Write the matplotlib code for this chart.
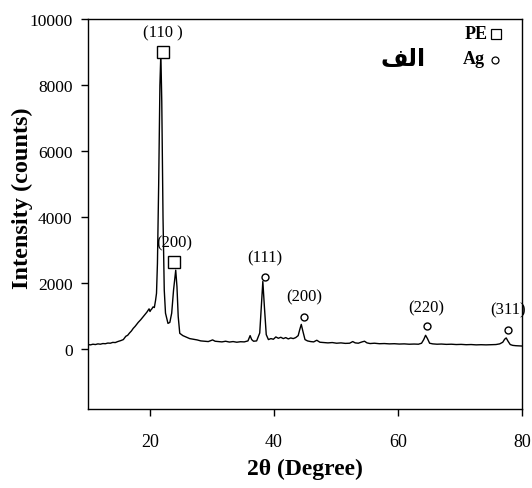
import matplotlib
matplotlib.use("Agg")
import matplotlib.pyplot as plt

# XRD pattern
two_theta = [10.0, 10.4, 10.8, 11.2, 11.6, 12.0, 12.4, 12.8, 13.2, 13.6, 14.0, 14.4, 14.8, 15.3, 15.7,
             16.1, 16.4, 16.7, 17.0, 17.3, 17.6, 18.1, 18.5, 18.9, 19.1, 19.3, 19.5, 19.7, 19.85, 20.0,
             20.15, 20.3, 20.5, 20.7, 20.9, 21.05, 21.2, 21.4, 21.6, 21.75, 21.9, 22.1, 22.3, 22.5,
             22.9, 23.2, 23.5, 23.8, 24.15, 24.35, 24.55, 24.8, 25.3, 25.8, 26.4, 27.0, 27.6, 28.2,
             28.8, 29.4, 30.1, 30.5, 31.0, 31.6, 32.2, 32.8, 33.4, 34.0, 34.6, 35.2, 35.8, 36.15,
             36.4, 36.7, 37.2, 37.7, 37.95, 38.2, 38.45, 38.75, 39.1, 39.5, 39.9, 40.3, 40.7, 41.1,
             41.5, 41.9, 42.3, 42.7, 43.1, 43.5, 43.9, 44.15, 44.4, 44.65, 45.0, 45.4, 45.9, 46.4,
             46.9, 47.4, 48.0, 48.7, 49.4, 50.1, 50.8, 51.5, 52.2, 52.7, 53.1, 53.6, 54.2, 54.6,
             55.0, 55.5, 56.2, 57.0, 57.8, 58.6, 59.4, 60.2, 61.0, 61.8, 62.6, 63.3, 63.8, 64.15,
             64.45, 64.75, 65.1, 65.6, 66.3, 67.0, 67.8, 68.6, 69.4, 70.2, 71.0, 71.8, 72.6, 73.4,
             74.2, 75.0, 75.8, 76.4, 76.9, 77.2, 77.45, 77.75, 78.1, 78.5, 79.0, 79.5, 80.0]
intensity = [150, 140, 160, 150, 170, 160, 180, 175, 195, 190, 215, 210, 240, 270, 300,
             400, 430, 500, 560, 640, 700, 820, 900, 990, 1040, 1080, 1130, 1190, 1230, 1150,
             1200, 1230, 1290, 1270, 1490, 1700, 2600, 5000, 8000, 8950, 7500, 4000, 1800, 1100,
             790, 820, 1100, 1800, 2400, 1900, 1000, 490, 420, 380, 330, 310, 290, 260,
             250, 240, 290, 250, 240, 230, 250, 225, 240, 220, 235, 230, 260, 420,
             300, 250, 260, 500, 1300, 2060, 1300, 450, 300, 330, 310, 380, 340, 370,
             330, 360, 320, 350, 330, 360, 420, 600, 760, 560, 300, 260, 240, 230,
             280, 220, 210, 200, 210, 190, 200, 185, 190, 240, 200, 190, 230, 250,
             200, 180, 190, 175, 180, 170, 175, 165, 170, 160, 165, 160, 190, 300,
             430, 330, 190, 170, 160, 165, 155, 160, 150, 155, 145, 150, 140, 145,
             140, 145, 150, 170, 220, 310, 350, 250, 150, 125, 115, 110, 105]

pe_x = [22.1, 23.9]
pe_y = [9000, 2650]
pe_labels = ["(110 )", "(200)"]
pe_label_y = [9600, 3250]

ag_x = [38.5, 44.8, 64.6, 77.8]
ag_y = [2200, 970, 700, 580]
ag_labels = ["(111)", "(200)", "(220)", "(311)"]
ag_label_y = [2800, 1600, 1280, 1220]

x_ticks = [20, 40, 60, 80]
y_ticks = [0, 2000, 4000, 6000, 8000, 10000]

serif = "Liberation Serif"

fig = plt.figure(figsize=(5.32, 4.89), dpi=100)
ax = fig.add_axes([0.1654, 0.1616, 0.8158, 0.7974])

ax.plot(two_theta, intensity, color="black", lw=1.0)
ax.plot(pe_x, pe_y, ls="none", marker="s", ms=9, mfc="white", mec="black", mew=1.0)
ax.plot(ag_x, ag_y, ls="none", marker="o", ms=5, mfc="white", mec="black", mew=1.0)

for x, y, t in zip(pe_x, pe_label_y, pe_labels):
    ax.text(x, y, t, ha="center", va="center", family=serif, fontsize=12)
for x, y, t in zip(ag_x, ag_label_y, ag_labels):
    ax.text(x, y, t, ha="center", va="center", family=serif, fontsize=12)

# legend-like annotation
ax.text(0.895, 0.962, "PE", transform=ax.transAxes, ha="center", va="center",
        family=serif, fontweight="bold", fontsize=13)
ax.plot([0.939], [0.962], transform=ax.transAxes, marker="s", ms=7, mfc="white",
        mec="black", mew=0.9, ls="none", clip_on=False)
ax.text(0.89, 0.898, "Ag", transform=ax.transAxes, ha="center", va="center",
        family=serif, fontweight="bold", fontsize=13)
ax.plot([0.937], [0.895], transform=ax.transAxes, marker="o", ms=5, mfc="white",
        mec="black", mew=0.9, ls="none", clip_on=False)
ax.text(0.725, 0.9, "\uFED2\uFEDF\uFE8D", transform=ax.transAxes, ha="center", va="center",
        family="DejaVu Sans", fontweight="bold", fontsize=17)

ax.set_xlim(10, 80)
ax.set_ylim(-1800, 10000)
ax.set_xticks(x_ticks)
ax.set_yticks(y_ticks)
ax.set_xticklabels([str(v) for v in x_ticks], family=serif, fontsize=13)
ax.set_yticklabels([str(v) for v in y_ticks], family=serif, fontsize=12.5)
ax.tick_params(axis="both", direction="out", length=5, width=1)
ax.tick_params(axis="x", pad=12)
ax.tick_params(axis="y", pad=6)
for s in ax.spines.values():
    s.set_linewidth(1.0)

ax.set_xlabel("2\u03b8 (Degree)", family=serif, fontweight="bold", fontsize=17)
ax.xaxis.set_label_coords(0.5, -0.125)
fig.text(22 / 532, 1 - 198 / 489, "Intensity (counts)", rotation=90, ha="center",
         va="center", family=serif, fontweight="bold", fontsize=17.5)

fig.savefig("out.png", dpi=100)
